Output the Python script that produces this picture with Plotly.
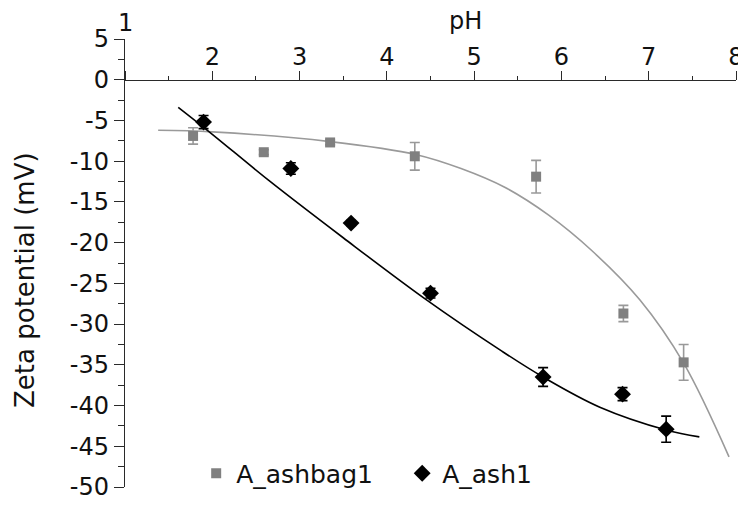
import plotly.graph_objects as go

# ---- data ----
ph_bag = [1.78, 2.59, 3.35, 4.32, 5.71, 6.71, 7.40]
zeta_bag = [-6.9, -8.9, -7.7, -9.4, -11.9, -28.7, -34.7]
err_bag = [1.0, 0.3, 0.3, 1.7, 2.0, 1.0, 2.2]

ph_ash = [1.90, 2.90, 3.59, 4.50, 5.79, 6.70, 7.20]
zeta_ash = [-5.2, -10.9, -17.6, -26.2, -36.5, -38.6, -42.9]
err_ash = [0.8, 0.7, 0.3, 0.6, 1.15, 0.8, 1.6]

# fitted curves
fit_bag_x = [1.38, 2.0, 3.35, 4.34, 4.85, 5.35, 5.85, 6.35, 6.90, 7.40, 7.92]
fit_bag_y = [-6.2, -6.4, -7.6, -9.2, -10.9, -13.2, -16.6, -21.0, -27.05, -34.8, -46.3]

fit_ash_x = [1.61, 2.0, 2.64, 3.5, 4.45, 5.30, 5.79, 6.44, 7.20, 7.58]
fit_ash_y = [-3.4, -6.7, -12.3, -19.4, -27.0, -33.2, -36.5, -40.2, -43.0, -43.85]

x_tickvals = [1, 2, 3, 4, 5, 6, 7, 8]
x_ticktext = ["", "2", "3", "4", "5", "6", "7", "8"]
y_tickvals = [5, 0, -5, -10, -15, -20, -25, -30, -35, -40, -45, -50]
y_ticktext = ["5", "0", "-5", "-10", "-15", "-20", "-25", "-30", "-35", "-40", "-45", "-50"]

FONT = "DejaVu Sans"
AXC = "#2a2a2a"

fig = go.Figure()

fig.add_trace(go.Scatter(x=fit_bag_x, y=fit_bag_y, mode="lines",
                         line=dict(color="#9a9a9a", width=1.6, shape="spline", smoothing=1.0),
                         showlegend=False, hoverinfo="skip"))
fig.add_trace(go.Scatter(x=fit_ash_x, y=fit_ash_y, mode="lines",
                         line=dict(color="#000000", width=1.6, shape="spline", smoothing=1.0),
                         showlegend=False, hoverinfo="skip"))

fig.add_trace(go.Scatter(x=ph_bag, y=zeta_bag, mode="markers", name="A_ashbag1",
                         marker=dict(symbol="square", size=10, color="#808080"),
                         error_y=dict(type="data", array=err_bag, color="#999999",
                                      thickness=1.6, width=5)))
fig.add_trace(go.Scatter(x=ph_ash, y=zeta_ash, mode="markers", name="A_ash1",
                         marker=dict(symbol="diamond", size=13, color="#000000"),
                         error_y=dict(type="data", array=err_ash, color="#000000",
                                      thickness=1.6, width=5)))

# page body has an 8px margin: figure is 738x502 and shifted accordingly
fig.update_layout(
    width=738, height=502,
    margin=dict(l=117, r=10, t=31, b=23, autoexpand=False),
    plot_bgcolor="white", paper_bgcolor="white",
    font=dict(family=FONT, size=24, color="#111111"),
    showlegend=True,
    legend=dict(orientation="h", x=0.1165, y=0.03, xanchor="left", yanchor="middle",
                bgcolor="rgba(0,0,0,0)", font=dict(size=25, family=FONT),
                itemwidth=30, entrywidth=161, tracegroupgap=0),
    xaxis=dict(range=[1, 8], anchor="free", position=0.909, side="top",
               automargin=False, ticklabelstandoff=-4,
               showline=True, linecolor=AXC, linewidth=1.4,
               ticks="outside", ticklen=9, tickwidth=1.4, tickcolor=AXC,
               tickvals=x_tickvals, ticktext=x_ticktext,
               minor=dict(dtick=0.5, tick0=1, ticks="outside", ticklen=4,
                          tickwidth=1.2, tickcolor=AXC),
               showgrid=False, zeroline=False, tickfont=dict(size=24)),
    yaxis=dict(range=[-50, 5], automargin=False,
               showline=True, linecolor=AXC, linewidth=1.4,
               ticks="outside", ticklen=10, tickwidth=1.4, tickcolor=AXC,
               tickvals=y_tickvals, ticktext=y_ticktext,
               minor=dict(dtick=2.5, tick0=0, ticks="outside", ticklen=6,
                          tickwidth=1.2, tickcolor=AXC),
               showgrid=False, zeroline=False, tickfont=dict(size=24)),
)

fig.add_annotation(text="1", x=1, y=1.035, xref="x", yref="paper",
                   showarrow=False, font=dict(size=24, family=FONT),
                   xanchor="center", yanchor="middle")
fig.add_annotation(text="pH", x=4.906, y=(486.7 - 21) / 447.7, xref="x", yref="paper",
                   showarrow=False, font=dict(size=24, family=FONT),
                   xanchor="center", yanchor="middle")
fig.add_annotation(text="Zeta potential (mV)", x=-0.164, y=(486.7 - 280) / 447.7,
                   xref="paper", yref="paper", textangle=-90,
                   showarrow=False, font=dict(size=26, family=FONT),
                   xanchor="center", yanchor="middle")

fig.write_html("out.html")
